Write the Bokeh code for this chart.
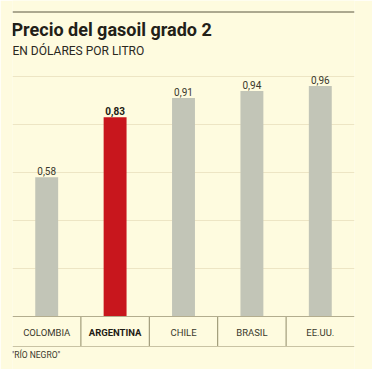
from bokeh.plotting import figure
from bokeh.models import (ColumnDataSource, Range1d, FactorRange, Grid, FixedTicker,
                          Label, Span)
from bokeh.core.properties import value
from bokeh.embed import file_html
from bokeh.resources import INLINE

categories = ["COLOMBIA", "ARGENTINA", "CHILE", "BRASIL", "EE.UU."]
values = [0.58, 0.83, 0.91, 0.94, 0.96]
value_labels = ["0,58", "0,83", "0,91", "0,94", "0,96"]
highlight = "ARGENTINA"
grid_ticks = [0.2, 0.4, 0.6, 0.8, 1.0]

BG = "#fefbdf"
W, H = 372, 369
PX_PER_UNIT = 240.0
ZERO_FROM_BOTTOM = 53.0  # px from figure bottom to the zero line
band = 30.0 / PX_PER_UNIT

y0 = -ZERO_FROM_BOTTOM / PX_PER_UNIT
y1 = y0 + H / PX_PER_UNIT

colors = ["#c8161d" if c == highlight else "#c2c5b7" for c in categories]
styles = ["bold" if c == highlight else "normal" for c in categories]
lab_colors = ["#1e1c14" if c == highlight else "#3a382c" for c in categories]

src = ColumnDataSource(dict(cat=categories, val=values, lab=value_labels,
                            color=colors, style=styles, lcol=lab_colors))

p = figure(width=W, height=H, x_range=FactorRange(*categories, range_padding=0),
           y_range=Range1d(y0, y1), x_axis_type=None, y_axis_type=None,
           output_backend="svg", toolbar_location=None,
           min_border_left=12, min_border_right=18, min_border_top=0, min_border_bottom=0)
p.background_fill_color = BG
p.border_fill_color = BG
p.outline_line_color = None

p.add_layout(Grid(dimension=1, ticker=FixedTicker(ticks=grid_ticks),
                  grid_line_color="#ede5c4", grid_line_width=1))

p.vbar(x="cat", top="val", width=0.335, source=src, color="color", line_color=None)

p.text(x="cat", y="val", text="lab", source=src, text_align="center",
       text_baseline="bottom", y_offset=-2, text_font_size="10px",
       text_font=value("Roboto"), text_font_style="style", text_color="lcol")

# category band
p.add_layout(Span(location=0, dimension="width", line_color="#b3ad8e", line_width=1))
p.add_layout(Span(location=-band, dimension="width", line_color="#c9c3a4", line_width=1))
p.segment(x0=[1, 2, 3, 4], y0=[0] * 4, x1=[1, 2, 3, 4], y1=[-band] * 4,
          line_color="#8f8a68", line_width=1)
p.text(x="cat", y=0, text="cat", source=src, text_align="center",
       text_baseline="middle", y_offset=16, text_font_size="9.5px",
       text_font=value("Roboto"), text_font_style="style", text_color="lcol")

# header
p.add_layout(Span(location=H - 11.5, location_units="screen", dimension="width",
                  line_color="#5a5640", line_width=1))
p.add_layout(Label(x=-1, y=H - 29, x_units="screen", y_units="screen",
                   text="Precio del gasoil grado 2", text_font="Roboto",
                   text_font_style="bold", text_font_size="18px",
                   text_color="#222018", text_baseline="middle"))
p.add_layout(Label(x=0, y=H - 50, x_units="screen", y_units="screen",
                   text="EN DÓLARES POR LITRO", text_font="Roboto",
                   text_font_size="12px", text_color="#2a281e",
                   text_baseline="middle"))
p.add_layout(Label(x=-1, y=H - 354, x_units="screen", y_units="screen",
                   text="\"RÍO NEGRO\"", text_font="Roboto",
                   text_font_size="8.5px", text_color="#3a382c",
                   text_baseline="middle"))

html = file_html(p, INLINE)
html = html.replace("<body>", '<body style="background:%s">' % BG, 1)
open("out.html", "w").write(html)
